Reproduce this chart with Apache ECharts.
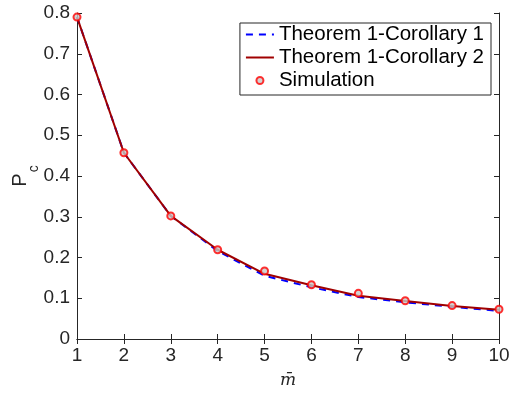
<!DOCTYPE html>
<html><head><meta charset="utf-8">
<script src="https://cdn.jsdelivr.net/npm/echarts@6/dist/echarts.min.js"></script>
<style>html,body{margin:0;padding:0;background:#fff}#c{width:511px;height:394px}</style>
</head><body><div id="c"></div>
<script>
var mBar = [1, 2, 3, 4, 5, 6, 7, 8, 9, 10];
var corollary1 = [0.790, 0.457, 0.302, 0.216, 0.155, 0.127, 0.103, 0.090, 0.079, 0.069];
var corollary2 = [0.790, 0.457, 0.302, 0.219, 0.160, 0.132, 0.106, 0.093, 0.081, 0.072];
var simulation = [0.790, 0.457, 0.302, 0.219, 0.167, 0.133, 0.112, 0.094, 0.082, 0.073];
var yTicks = [0, 0.1, 0.2, 0.3, 0.4, 0.5, 0.6, 0.7, 0.8];
var xTicks = [1, 2, 3, 4, 5, 6, 7, 8, 9, 10];

function pairs(xs, ys) { return xs.map(function (x, i) { return [x, ys[i]]; }); }
var font = 'Liberation Sans, Helvetica, Arial, sans-serif';
var axisCol = '#262626';
var chart = echarts.init(document.getElementById('c'));
var baseX = {
  type: 'value', min: xTicks[0], max: xTicks[xTicks.length - 1], interval: 1,
  axisLine: { show: true, lineStyle: { color: axisCol, width: 1 } },
  axisTick: { show: true, inside: true, length: 5, lineStyle: { color: axisCol } },
  splitLine: { show: false }
};
var baseY = {
  type: 'value', min: yTicks[0], max: yTicks[yTicks.length - 1], interval: 0.1,
  axisLine: { show: true, lineStyle: { color: axisCol, width: 1 } },
  axisTick: { show: true, inside: true, length: 5, lineStyle: { color: axisCol } },
  splitLine: { show: false }
};
var hidden = { color: 'rgba(0,0,0,0)', opacity: 0, borderWidth: 0 };
chart.setOption({
  animation: false,
  backgroundColor: '#fff',
  grid: { left: 77, right: 12, top: 13, bottom: 55, containLabel: false, outerBoundsMode: 'none' },
  xAxis: [
    Object.assign({}, baseX, {
      position: 'bottom',
      axisLabel: { show: true, color: axisCol, fontSize: 19, fontFamily: font, margin: 7 },
      name: 'm\u0304', nameLocation: 'middle', nameGap: 33, nameMoveOverlap: false,
      nameTextStyle: { fontFamily: 'DejaVu Serif, Liberation Serif, serif', fontStyle: 'italic', fontSize: 17, color: axisCol }
    }),
    Object.assign({}, baseX, { position: 'top', axisLabel: { show: false } })
  ],
  yAxis: [
    Object.assign({}, baseY, {
      position: 'left',
      axisLabel: { show: true, color: axisCol, fontSize: 19, fontFamily: font, margin: 7,
        formatter: function (v) { return v === 0 ? '0' : v.toFixed(1); } },
      name: '{p|P}{s|c}', nameLocation: 'middle', nameGap: 47, nameRotate: 90, nameMoveOverlap: false,
      nameTextStyle: { rich: {
        p: { fontSize: 20, fontFamily: font, color: axisCol },
        s: { fontSize: 14, fontFamily: font, color: axisCol, verticalAlign: 'bottom', padding: [0, 0, -11, 1] }
      } }
    }),
    Object.assign({}, baseY, { position: 'right', axisLabel: { show: false } })
  ],
  legend: {
    right: 20, top: 23, orient: 'vertical', align: 'left',
    backgroundColor: '#fff', borderColor: axisCol, borderWidth: 1, borderRadius: 0,
    padding: [1, 7, 4, 5], itemGap: 2, itemWidth: 28, itemHeight: 7,
    textStyle: { fontSize: 20.5, fontFamily: font, color: '#000', lineHeight: 20 },
    data: [
      { name: 'Theorem 1-Corollary 1', itemStyle: hidden },
      { name: 'Theorem 1-Corollary 2', itemStyle: hidden },
      { name: 'Simulation' }
    ]
  },
  series: [
    { name: 'Theorem 1-Corollary 1', type: 'line', data: pairs(mBar, corollary1),
      showSymbol: false, symbol: 'none', z: 2,
      lineStyle: { color: '#0000ff', width: 2, type: [7, 6] }, itemStyle: { color: '#0000ff' } },
    { name: 'Theorem 1-Corollary 2', type: 'line', data: pairs(mBar, corollary2),
      showSymbol: false, symbol: 'none', z: 3,
      lineStyle: { color: '#a00000', width: 2 }, itemStyle: { color: '#a00000' } },
    { name: 'Simulation', type: 'scatter', data: pairs(mBar, simulation),
      symbol: 'circle', symbolSize: 7, z: 4,
      itemStyle: { color: '#c8c8c8', borderColor: '#ff0000', borderWidth: 2 } }
  ]
});
</script></body></html>
